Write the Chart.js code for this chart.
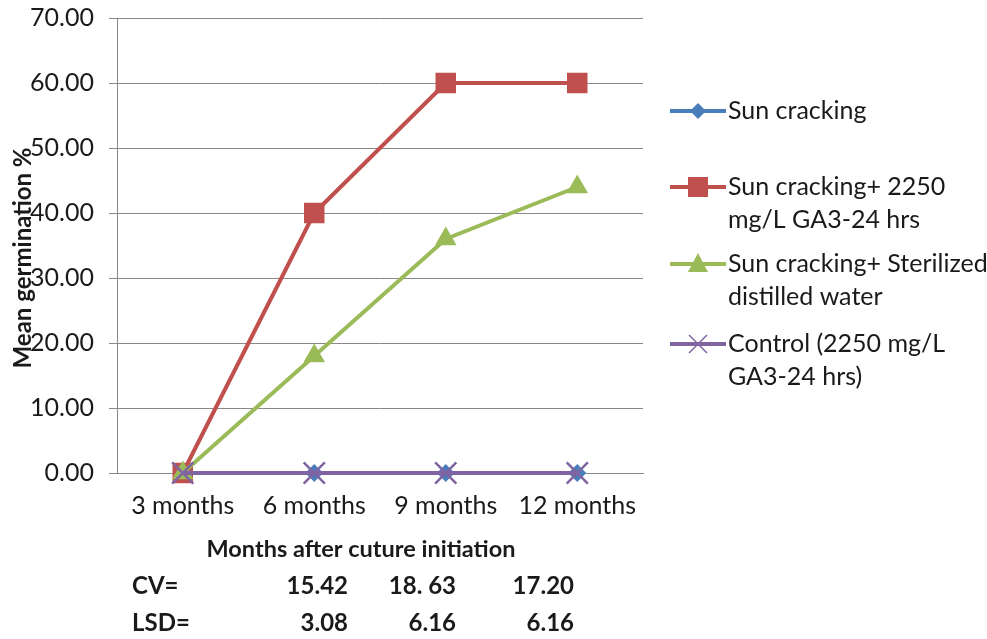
<!DOCTYPE html>
<html>
<head>
<meta charset="utf-8">
<script src="https://cdn.jsdelivr.net/npm/chart.js@4"></script>
<style>
  html, body { margin: 0; padding: 0; background: #fff; }
  #wrap { width: 987px; height: 639px; }
</style>
</head>
<body>
<div id="wrap"><canvas id="myChart" width="987" height="639"></canvas></div>
<script>
// categories and series
const months = ['3 months', '6 months', '9 months', '12 months'];
const sunCracking = [0, 0, 0, 0];
const sunCrackingGA3 = [0, 40, 60, 60];
const sunCrackingWater = [0, 18, 36, 44];
const control = [0, 0, 0, 0];

// legend labels (two lines for the long ones)
const legendLabels = [
    ['Sun cracking'],
    ['Sun cracking+ 2250', 'mg/L GA3-24 hrs'],
    ['Sun cracking+ Sterilized', 'distilled water'],
    ['Control (2250 mg/L', 'GA3-24 hrs)'],
];

// statistics rows under the chart
const cvValues = ['15.42', '18. 63', '17.20'];
const lsdValues = ['3.08', '6.16', '6.16'];

const FONT = 'Lato';
const textColor = '#1a1a1a';

function drawMarker(ctx, style, x, y, color) {
    ctx.save();
    ctx.fillStyle = color;
    ctx.strokeStyle = color;
    ctx.beginPath();
    if (style === 'rectRot') {
        ctx.moveTo(x, y - 8); ctx.lineTo(x + 8, y); ctx.lineTo(x, y + 8); ctx.lineTo(x - 8, y);
        ctx.closePath(); ctx.fill();
    } else if (style === 'rect') {
        ctx.rect(x - 10, y - 10, 20, 20); ctx.fill();
    } else if (style === 'triangle') {
        ctx.moveTo(x, y - 11); ctx.lineTo(x + 10, y + 8); ctx.lineTo(x - 10, y + 8);
        ctx.closePath(); ctx.fill();
    } else if (style === 'crossRot') {
        ctx.lineWidth = 1.5;
        ctx.moveTo(x - 9, y - 9); ctx.lineTo(x + 9, y + 9);
        ctx.moveTo(x + 9, y - 9); ctx.lineTo(x - 9, y + 9);
        ctx.stroke();
    }
    ctx.restore();
}

// legend on the right plus the axis titles and CV / LSD rows
const extras = {
    id: 'extras',
    afterDraw(chart) {
        const ctx = chart.ctx;
        ctx.save();
        ctx.fillStyle = textColor;

        // legend
        const legendTop = [111, 187, 264, 344];
        chart.data.datasets.forEach((ds, i) => {
            const y = legendTop[i];
            ctx.strokeStyle = ds.borderColor;
            ctx.lineWidth = 4;
            ctx.beginPath();
            ctx.moveTo(670, y);
            ctx.lineTo(726, y);
            ctx.stroke();
            drawMarker(ctx, ds.pointStyle, 698, y, ds.backgroundColor);
            ctx.font = '25px ' + FONT;
            ctx.textAlign = 'left';
            ctx.textBaseline = 'middle';
            ctx.fillStyle = textColor;
            legendLabels[i].forEach((line, j) => {
                ctx.fillText(line, 728, y + j * 33);
            });
        });

        // y axis title
        ctx.save();
        ctx.translate(23, 258);
        ctx.rotate(-Math.PI / 2);
        ctx.font = 'bold 24px ' + FONT;
        ctx.textAlign = 'center';
        ctx.textBaseline = 'middle';
        ctx.fillText('Mean germination %', 0, 0);
        ctx.restore();

        // x axis title
        ctx.font = 'bold 23.5px ' + FONT;
        ctx.textAlign = 'center';
        ctx.textBaseline = 'middle';
        ctx.fillText('Months after cuture initiation', 361, 549);

        // CV / LSD rows
        ctx.font = 'bold 24px ' + FONT;
        ctx.textAlign = 'left';
        ctx.fillText('CV=', 132, 586);
        ctx.fillText('LSD=', 132, 623);
        const rightEdges = [348, 456, 574];
        ctx.textAlign = 'right';
        cvValues.forEach((v, i) => ctx.fillText(v, rightEdges[i], 586));
        lsdValues.forEach((v, i) => ctx.fillText(v, rightEdges[i], 623));
        ctx.restore();
    }
};

let myChart = document.getElementById('myChart').getContext('2d');

let chart1 = new Chart(myChart, {
    type: 'line',
    data: {
        labels: months,
        datasets: [
            {
                label: 'Sun cracking',
                data: sunCracking,
                borderColor: '#4A7EBB',
                backgroundColor: '#4A7EBB',
                pointStyle: 'rectRot',
                pointRadius: 9,
                pointBorderWidth: 0,
                borderWidth: 4,
                clip: false,
                order: 4,
            },
            {
                label: 'Sun cracking+ 2250 mg/L GA3-24 hrs',
                data: sunCrackingGA3,
                borderColor: '#C0504D',
                backgroundColor: '#C0504D',
                pointStyle: 'rect',
                pointRadius: 14.5,
                pointBorderWidth: 0,
                borderWidth: 4,
                clip: false,
                order: 3,
            },
            {
                label: 'Sun cracking+ Sterilized distilled water',
                data: sunCrackingWater,
                borderColor: '#9BBB59',
                backgroundColor: '#9BBB59',
                pointStyle: 'triangle',
                pointRadius: 12.5,
                pointBorderWidth: 0,
                borderWidth: 4,
                clip: false,
                order: 2,
            },
            {
                label: 'Control (2250 mg/L GA3-24 hrs)',
                data: control,
                borderColor: '#8064A2',
                backgroundColor: '#8064A2',
                pointBorderColor: '#8064A2',
                pointStyle: 'crossRot',
                pointRadius: 15,
                pointBorderWidth: 2.5,
                borderWidth: 4,
                clip: false,
                order: 1,
            },
        ]
    },
    options: {
        responsive: false,
        animation: false,
        layout: {
            padding: { left: 0, right: 344, top: 18, bottom: 0 }
        },
        plugins: {
            legend: { display: false },
            tooltip: { enabled: false },
        },
        elements: {
            line: { tension: 0 },
        },
        scales: {
            x: {
                offset: true,
                grid: { display: false, drawTicks: false },
                border: { color: '#888', width: 1 },
                ticks: {
                    color: textColor,
                    font: { family: FONT, size: 25 },
                    padding: 18,
                    maxRotation: 0,
                },
                afterFit(scale) {
                    scale.height = 166;
                    scale.paddingLeft = 0;
                    scale.paddingRight = 0;
                },
            },
            y: {
                min: 0,
                max: 70,
                grid: { color: '#888', tickLength: 8 },
                border: { color: '#888', width: 1 },
                ticks: {
                    stepSize: 10,
                    color: textColor,
                    font: { family: FONT, size: 25 },
                    padding: 15,
                    callback: (v) => v.toFixed(2),
                },
                afterFit(scale) {
                    scale.width = 117;
                    scale.paddingTop = 0;
                    scale.paddingBottom = 0;
                },
            }
        }
    },
    plugins: [extras]
});
</script>
</body>
</html>
